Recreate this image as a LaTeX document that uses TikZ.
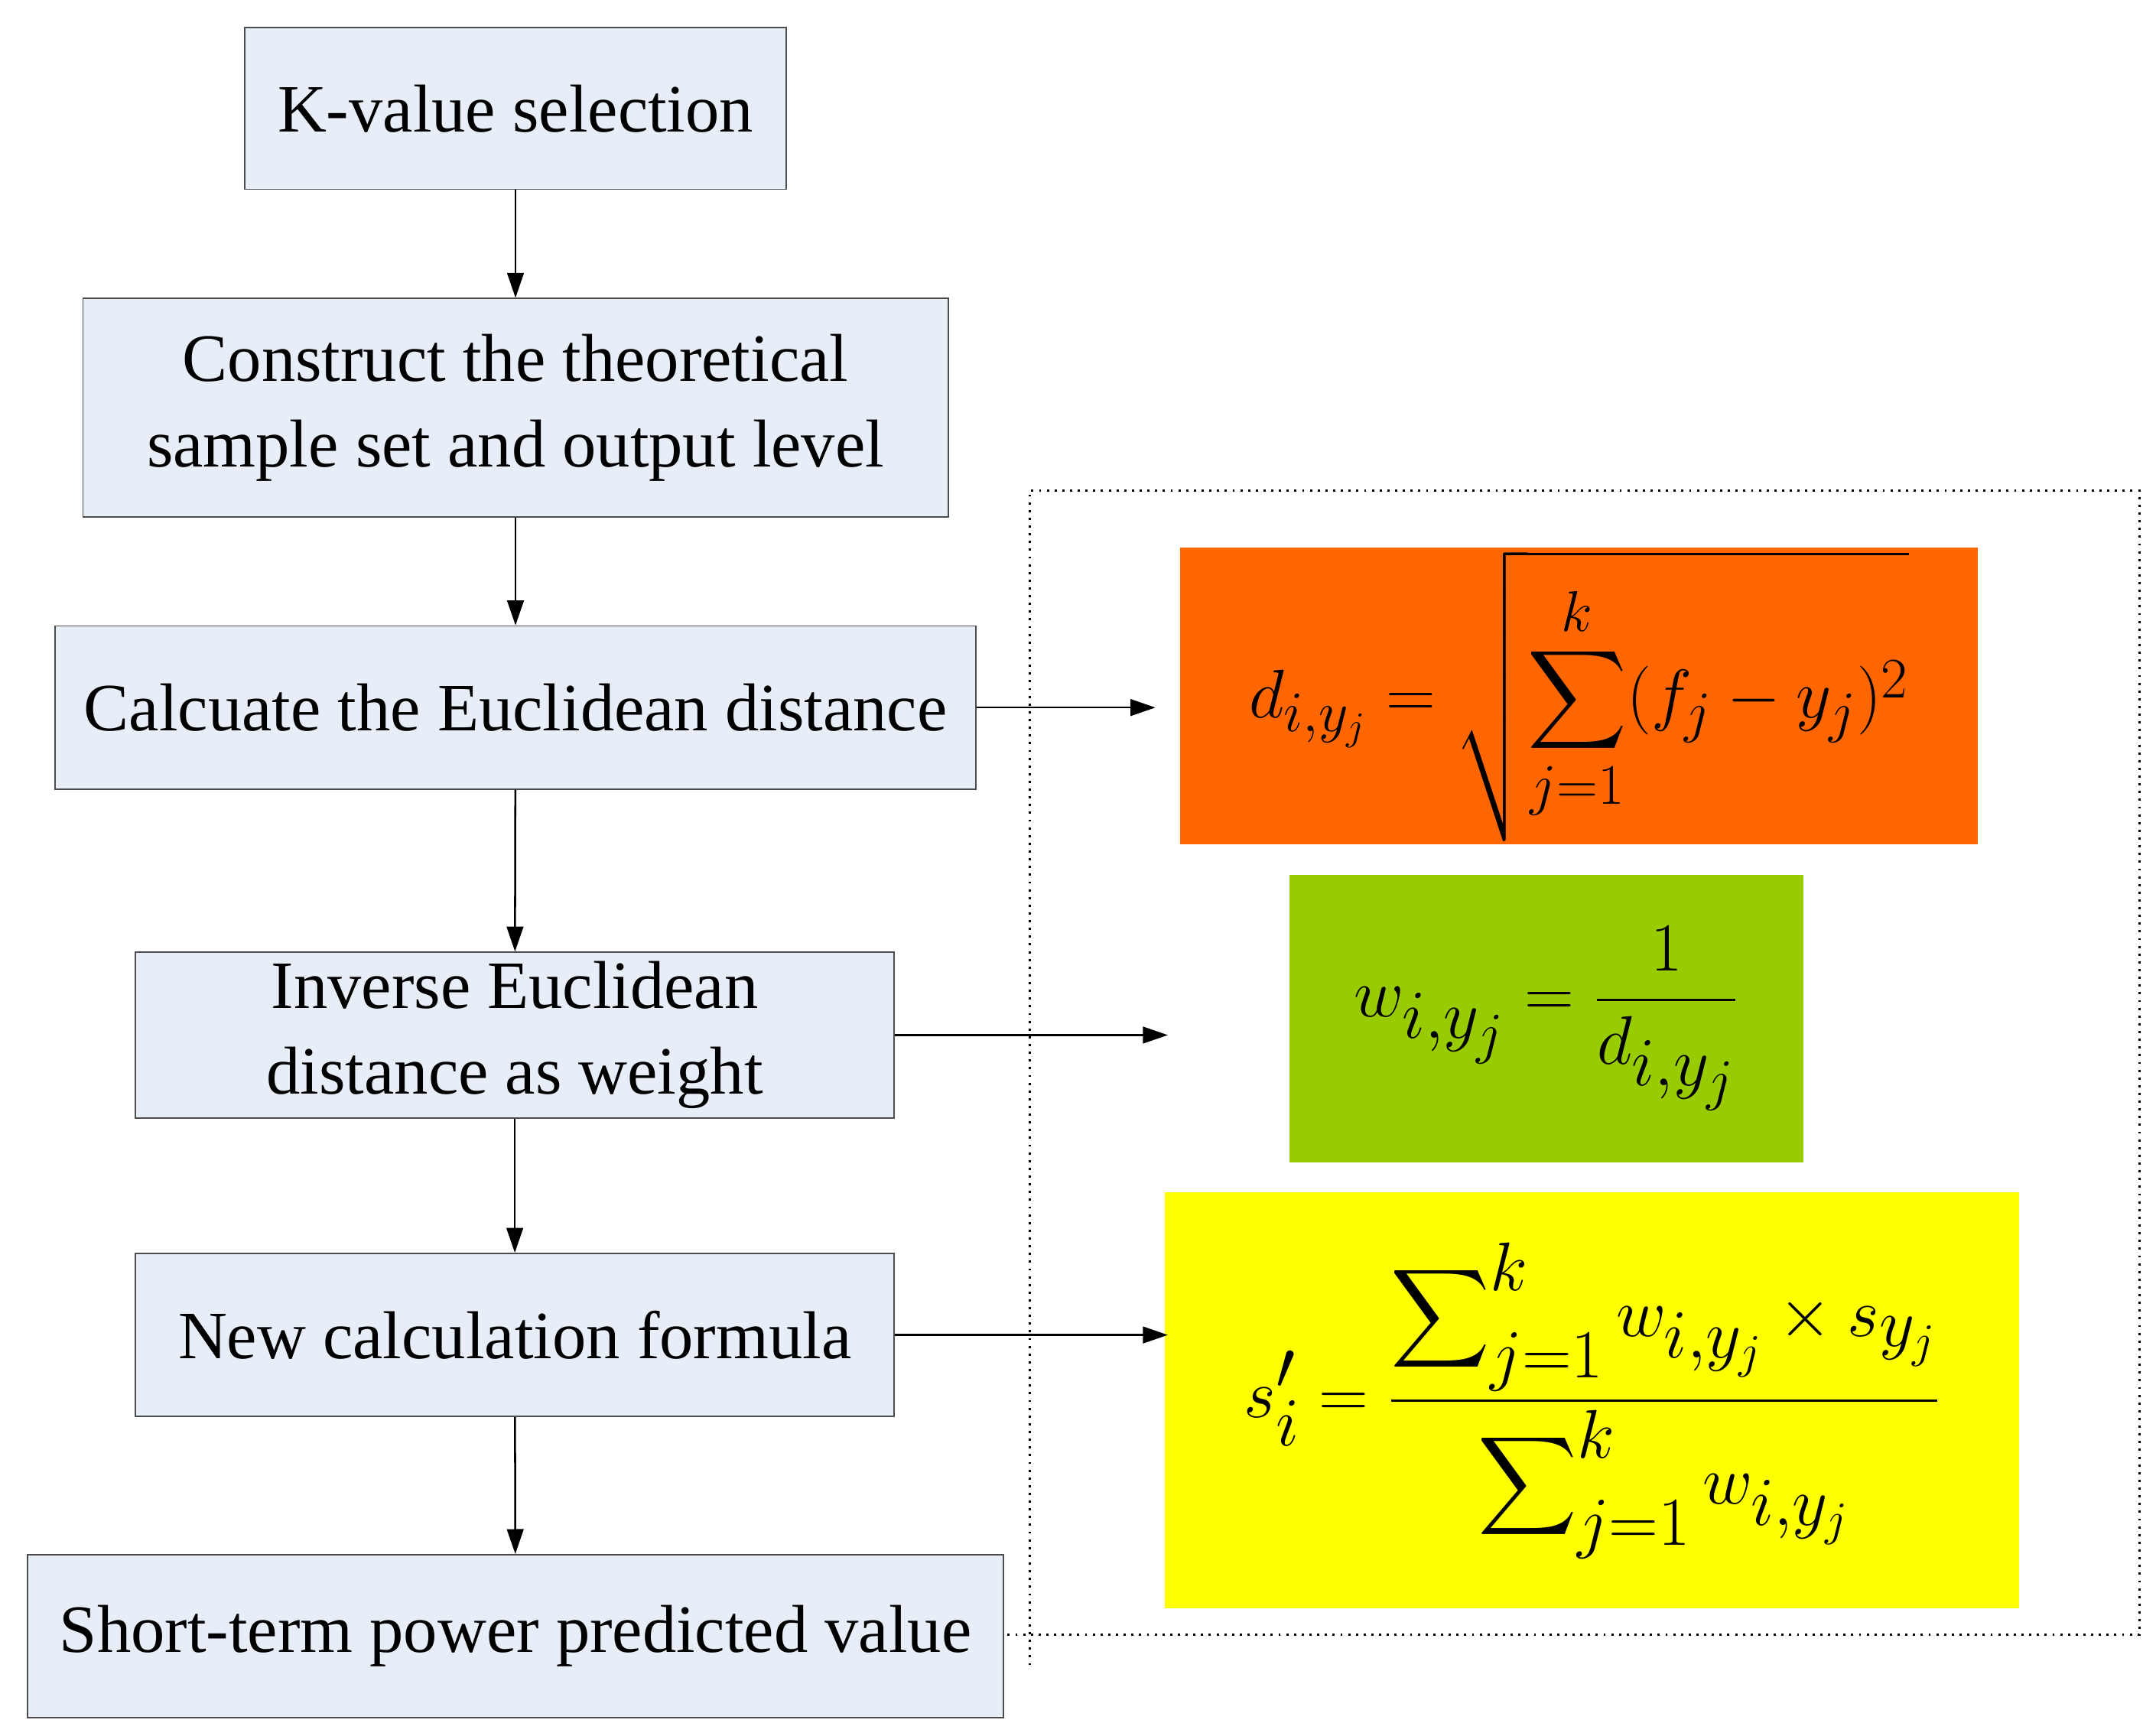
\documentclass[tikz,border=0pt]{standalone}
\usepackage{amsmath}
\usepackage{fontspec}
\setmainfont{Liberation Serif}
\usetikzlibrary{arrows.meta}
\definecolor{boxfill}{HTML}{E8EEF8}
\definecolor{orng}{HTML}{FF6600}
\definecolor{grn}{HTML}{99CC00}
\definecolor{yel}{HTML}{FFFF00}
\begin{document}
\begin{tikzpicture}[x=0.5pt,y=-0.5pt,
  flow/.style={draw=black!70,fill=boxfill,line width=0.5pt,align=center,font=\fontsize{24.5}{31}\selectfont},
  arr/.style={-{Triangle[length=9pt,width=6pt]},line width=0.7pt},
  dot/.style={dotted,line width=0.8pt}]
\useasboundingbox (0,0) rectangle (1560,1256);
\node[flow,minimum width=196pt,minimum height=58.5pt] (k) at (373,78.5) {K-value selection};
\node[flow,minimum width=313pt,minimum height=79pt] (c) at (373,295) {Construct the theoretical\\sample set and output level};
\node[flow,minimum width=333pt,minimum height=59pt] (e) at (373,512) {Calcuate the Euclidean distance};
\node[flow,minimum width=274.5pt,minimum height=59pt] (i) at (372.5,749) {Inverse Euclidean\\distance as weight};
\node[flow,minimum width=274.5pt,minimum height=59pt] (n) at (372.5,966) {New calculation formula};
\node[flow,minimum width=353pt,minimum height=59pt] (s) at (373,1184) {Short-term power predicted value};
\draw[arr] (k) -- (c);
\draw[arr] (c) -- (e);
\draw[arr] (e) -- (i);
\draw[arr] (i) -- (n);
\draw[arr] (n) -- (s);
% dotted frame
\coordinate (tl) at (745,355);
\coordinate (bl) at (745,1205);
\coordinate (tr) at (1548,355);
\coordinate (br) at (1548,1183);
\draw[dot] (bl) -- (tl) -- (tr) -- (br) -- (s.east |- br);
% formula boxes
\node[fill=orng,minimum width=288.5pt,minimum height=107.5pt,inner sep=0pt,font=\fontsize{30}{33}\selectfont] (fo) at (1142.5,503.5)
  {$\displaystyle d_{i,y_j}=\sqrt{\sum_{j=1}^{k}(f_j-y_j)^2}$};
\node[fill=grn,minimum width=186pt,minimum height=104pt,inner sep=0pt,font=\fontsize{40}{44}\selectfont] (fg) at (1119,737)
  {$\displaystyle w_{i,y_j}=\frac{1}{d_{i,y_j}}$};
\node[fill=yel,minimum width=309pt,minimum height=150.5pt,inner sep=0pt,font=\fontsize{34}{38}\selectfont] (fy) at (1152,1013.5)
  {$\displaystyle s_i'=\frac{\displaystyle\sum\nolimits_{j=1}^{k}w_{i,y_j}\times s_{y_j}}{\displaystyle\sum\nolimits_{j=1}^{k}w_{i,y_j}}$};
\coordinate (a1) at (836,512);
\coordinate (a2) at (845,749);
\coordinate (a3) at (845,966);
\draw[arr] (e.east) -- (a1);
\draw[arr] (i.east) -- (a2);
\draw[arr] (n.east) -- (a3);
\end{tikzpicture}
\end{document}
